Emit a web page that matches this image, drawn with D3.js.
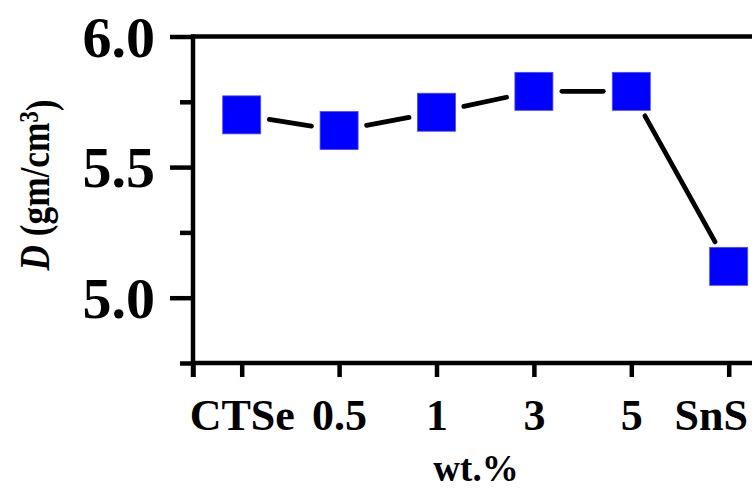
<!DOCTYPE html>
<html>
<head>
<meta charset="utf-8">
<script src="https://cdn.jsdelivr.net/npm/d3@7"></script>
<style>
  html, body { margin: 0; padding: 0; background: #fff; }
  svg { display: block; }
  text { font-family: "Liberation Serif", "Times New Roman", serif; font-weight: bold; fill: #000; }
</style>
</head>
<body>
<svg id="chart" width="752" height="489"></svg>
<script>
// Density of the samples
const categories = ["CTSe", "0.5", "1", "3", "5", "SnS"];
const density = [5.70, 5.64, 5.71, 5.79, 5.79, 5.12];
const yMajorTicks = [5.0, 5.5, 6.0];
const yMinorTicks = [4.75, 5.25, 5.75];

const svg = d3.select("#chart");

const x = d3.scaleLinear().domain([-0.5, 5.5]).range([193, 777.4]);
const y = d3.scaleLinear().domain([4.75, 6.0]).range([363, 36.5]);

const axisW = 4.5;

// y axis: major ticks with labels, shorter minor ticks
const yMajor = svg.append("g").attr("transform", `translate(${x(-0.5)},0)`)
  .call(d3.axisLeft(y).tickValues(yMajorTicks).tickSize(23).tickPadding(15).tickFormat(d3.format(".1f")));
const yMinor = svg.append("g").attr("transform", `translate(${x(-0.5)},0)`)
  .call(d3.axisLeft(y).tickValues(yMinorTicks).tickSize(13).tickFormat(""));

// x axis: category ticks plus one at the axis start
const xTickVals = [-0.5, 0, 1, 2, 3, 4, 5, 5.5];
const xAxis = svg.append("g").attr("transform", `translate(0,${y(4.75)})`)
  .call(d3.axisBottom(x).tickValues(xTickVals).tickSize(14).tickPadding(22)
    .tickFormat(d => Number.isInteger(d) ? categories[d] : ""));

[yMajor, yMinor, xAxis].forEach(g => {
  g.select(".domain").remove();
  g.selectAll(".tick line").attr("stroke", "#000").attr("stroke-width", axisW);
});
yMajor.selectAll(".tick text").style("font-size", "58px").attr("dy", "0.34em");
xAxis.selectAll(".tick text").style("font-size", "44px").attr("dy", "0.7em")
  .attr("dx", d => d === 5 ? -18 : 0);

// frame lines
const frame = svg.append("g").attr("stroke", "#000").attr("stroke-width", axisW).attr("fill", "none");
frame.append("line").attr("x1", x(-0.5)).attr("x2", x(5.5)).attr("y1", y(6.0)).attr("y2", y(6.0));
frame.append("line").attr("x1", x(-0.5)).attr("x2", x(5.5)).attr("y1", y(4.75)).attr("y2", y(4.75));
frame.append("line").attr("x1", x(-0.5)).attr("x2", x(-0.5)).attr("y1", y(6.0) - axisW / 2).attr("y2", y(4.75) + 14);
frame.append("line").attr("x1", x(5.5)).attr("x2", x(5.5)).attr("y1", y(6.0)).attr("y2", y(4.75));

// connecting line segments, leaving a gap around each symbol
const pts = density.map((v, i) => [x(i), y(v)]);
const gap = 28;
const segs = d3.pairs(pts).map(([a, b]) => {
  const dx = b[0] - a[0], dy = b[1] - a[1];
  const len = Math.hypot(dx, dy);
  const ux = dx / len, uy = dy / len;
  return [a[0] + ux * gap, a[1] + uy * gap, b[0] - ux * gap, b[1] - uy * gap];
});
svg.append("g").selectAll("line").data(segs).join("line")
  .attr("x1", d => d[0]).attr("y1", d => d[1])
  .attr("x2", d => d[2]).attr("y2", d => d[3])
  .attr("stroke", "#000").attr("stroke-width", 4.8).attr("stroke-linecap", "round");

// square symbols
const sz = 38;
svg.append("g").selectAll("rect").data(density).join("rect")
  .attr("x", (d, i) => x(i) - sz / 2)
  .attr("y", d => y(d) - sz / 2)
  .attr("width", sz).attr("height", sz)
  .attr("fill", "#0000ff")
  .attr("stroke", "#4a4aff").attr("stroke-width", 0.8);

// axis titles
svg.append("text")
  .attr("x", 476).attr("y", 481)
  .attr("text-anchor", "middle")
  .style("font-size", "37px")
  .text("wt.%");

const yt = svg.append("text")
  .attr("transform", "translate(49,185) rotate(-90) scale(0.84,1)")
  .attr("text-anchor", "middle")
  .style("font-size", "42px");
yt.append("tspan").style("font-style", "italic").text("D");
yt.append("tspan").text(" (gm/cm");
yt.append("tspan").attr("dy", "-0.42em").style("font-size", "27px").text("3");
yt.append("tspan").attr("dy", "0.42em").text(")");
</script>
</body>
</html>
